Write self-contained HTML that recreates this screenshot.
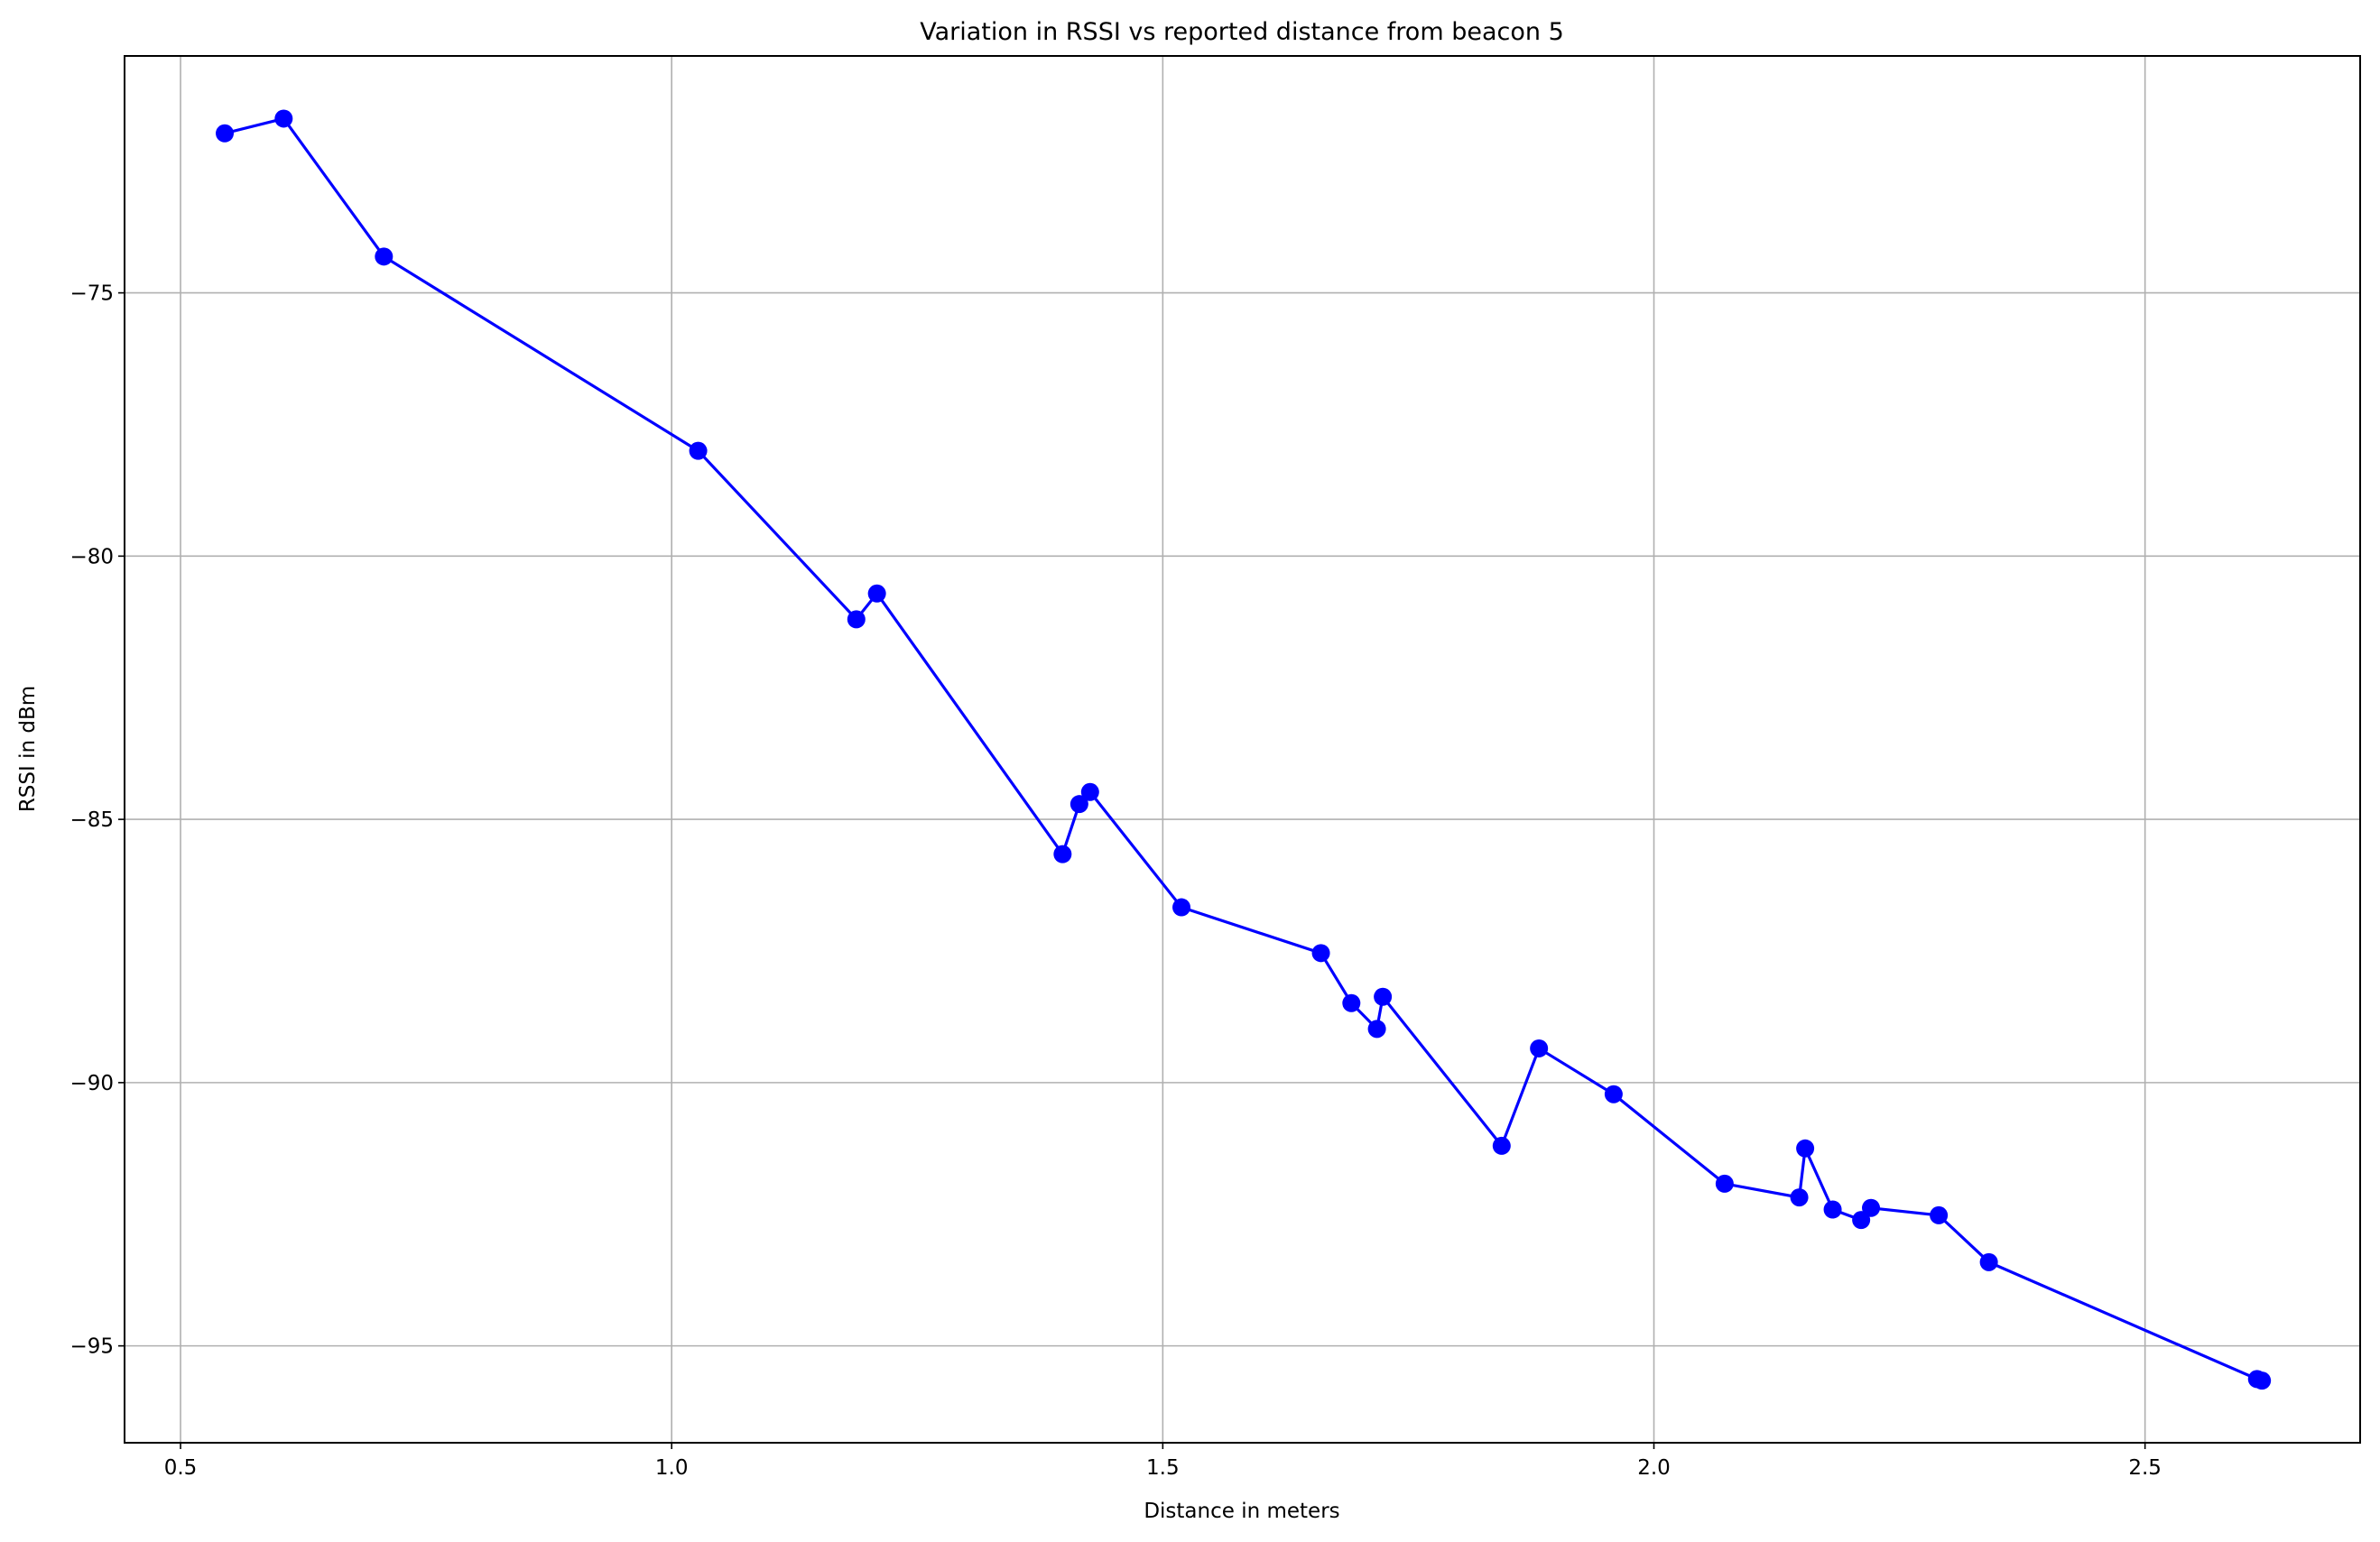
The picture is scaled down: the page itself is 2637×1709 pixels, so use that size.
<!DOCTYPE html>
<html><head><meta charset="utf-8"><style>
html,body{margin:0;padding:0;background:#fff;}
svg{display:block;font-family:"DejaVu Sans","Liberation Sans",sans-serif;}
</style></head><body>
<svg id="chart" width="2637" height="1709" viewBox="0 0 2637 1709">
<text x="1376" y="44" font-size="27" text-anchor="middle">Variation in RSSI vs reported distance from beacon 5</text>
<g id="grid"></g>
<g id="series"></g>
<rect x="138" y="62" width="2477" height="1537" fill="none" stroke="#000" stroke-width="2"/>
<g id="axes"></g>
<text x="1376" y="1682" font-size="23" text-anchor="middle">Distance in meters</text>
<text x="38" y="830" font-size="23" text-anchor="middle" transform="rotate(-90 38 830)">RSSI in dBm</text>
</svg>
<script>
const distances=[0.545,0.605,0.707,1.027,1.188,1.209,1.398,1.415,1.426,1.519,1.661,1.692,1.718,1.724,1.845,1.883,1.959,2.072,2.148,2.154,2.182,2.211,2.221,2.290,2.341,2.614,2.619];
const rssi=[-71.97,-71.69,-74.31,-78.0,-81.2,-80.71,-85.66,-84.71,-84.48,-86.67,-87.54,-88.49,-88.98,-88.37,-91.2,-89.35,-90.22,-91.92,-92.18,-91.25,-92.41,-92.61,-92.38,-92.52,-93.41,-95.63,-95.66];
const xTicks=[0.5,1.0,1.5,2.0,2.5];
const xTickLabels=["0.5","1.0","1.5","2.0","2.5"];
const yTicks=[-75,-80,-85,-90,-95];
const yTickLabels=["\u221275","\u221280","\u221285","\u221290","\u221295"];

const L=138,R=2615,T=62,B=1599;
const xMin=0.443,xMax=2.719,yMin=-96.84,yMax=-70.5;
const sx=v=>L+(v-xMin)/(xMax-xMin)*(R-L);
const sy=v=>B-(v-yMin)/(yMax-yMin)*(B-T);
const NS="http://www.w3.org/2000/svg";
function mk(tag,attrs,parent){const e=document.createElementNS(NS,tag);for(const k in attrs)e.setAttribute(k,attrs[k]);parent.appendChild(e);return e;}
const grid=document.getElementById('grid'),axes=document.getElementById('axes'),series=document.getElementById('series');
xTicks.forEach((t,i)=>{const x=sx(t);
 const g=mk('line',{x1:x,x2:x,y1:T,y2:B,stroke:'#b0b0b0','stroke-width':1.6},grid);
 
 
 const tk=mk('line',{x1:x,x2:x,y1:B,y2:B+7,stroke:'#000','stroke-width':1.6},axes);
 
 
 const tx=mk('text',{x:x,y:B+35,'font-size':23,'text-anchor':'middle'},axes);tx.textContent=xTickLabels[i];
 
 
});
yTicks.forEach((t,i)=>{const y=sy(t);
 const g=mk('line',{x1:L,x2:R,y1:y,y2:y,stroke:'#b0b0b0','stroke-width':1.6},grid);
 
 
 const tk=mk('line',{x1:L-7,x2:L,y1:y,y2:y,stroke:'#000','stroke-width':1.6},axes);
 
 
 const tx=mk('text',{x:L-12,y:y+8,'font-size':23,'text-anchor':'end'},axes);tx.textContent=yTickLabels[i];
 
 
});
const pts=distances.map((d,i)=>sx(d)+','+sy(rssi[i])).join(' ');
const pl=mk('polyline',{points:pts,fill:'none',stroke:'#0000ff','stroke-width':3.2},series);


distances.forEach((d,i)=>{
 const c=mk('circle',{cx:sx(d),cy:sy(rssi[i]),r:10,fill:'#0000ff'},series);
 
 
});
</script>
</body></html>
